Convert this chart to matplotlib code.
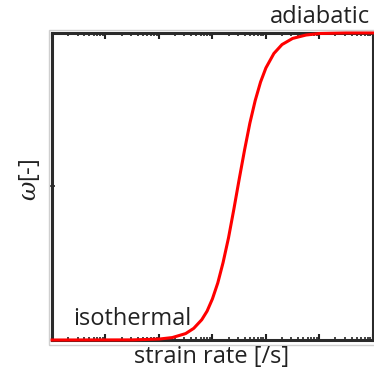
import matplotlib
matplotlib.use('Agg')
import matplotlib.pyplot as plt
from matplotlib.patches import Rectangle

plt.rcParams['font.family'] = ['Open Sans', 'DejaVu Sans']
plt.rcParams['mathtext.fontset'] = 'dejavuserif'

# strain rate [/s] and omega [-]
strain_rate = [1e-3, 0.0316, 0.1, 0.178, 0.316, 0.447, 0.631, 0.794, 1.0, 1.26,
               1.58, 2.0, 2.51, 3.16, 3.98, 5.01, 6.31, 7.94, 10.0, 14.1,
               20.0, 31.6, 56.2, 100.0, 316.0, 1000.0]
omega = [0.0, 0.0004, 0.003, 0.008, 0.021, 0.038, 0.066, 0.094, 0.134, 0.186,
         0.252, 0.333, 0.425, 0.523, 0.618, 0.706, 0.780, 0.840, 0.886, 0.933,
         0.962, 0.982, 0.993, 0.998, 1.0, 1.0]

fig = plt.figure(figsize=(3.74, 3.78), dpi=100)
ax = fig.add_axes([0.139, 0.1005, 0.858, 0.8125])

# light grey frame around the plot box
fig.patches.append(Rectangle((0.131, 0.087), 0.875, 0.834, transform=fig.transFigure,
                             fill=False, edgecolor='#cfcfcf', linewidth=1.0))

ax.plot(strain_rate, omega, color='#ff0000', linewidth=2.2, zorder=3, clip_on=False,
        solid_joinstyle='round')

ax.set_xscale('log')
ax.set_xlim(1e-3, 1e3)
ax.set_ylim(0, 1)
ax.set_yticks([0.5])
ax.tick_params(axis='x', which='both', direction='in', top=True, bottom=True,
               labelbottom=False, color='#222222')
ax.tick_params(axis='x', which='major', length=4, width=1.5)
ax.tick_params(axis='x', which='minor', length=2.5, width=1.2)
ax.tick_params(axis='y', direction='inout', length=5, width=1.2, labelleft=False,
               color='#222222')
for s in ax.spines.values():
    s.set_linewidth(2.2)
    s.set_color('#2a2a2a')

fig.text(0.99, 0.939, 'adiabatic', ha='right', va='baseline', fontsize=17, color='#222222')
fig.text(0.195, 0.14, 'isothermal', ha='left', va='baseline', fontsize=17, color='#222222')
fig.text(0.567, 0.04, 'strain rate [/s]', ha='center', va='baseline', fontsize=17,
         color='#222222')
fig.text(0.08, 0.524, r'$\omega$[-]', ha='center', va='center', rotation=90,
         fontsize=17, color='#222222')

plt.savefig('out.png', dpi=100)
